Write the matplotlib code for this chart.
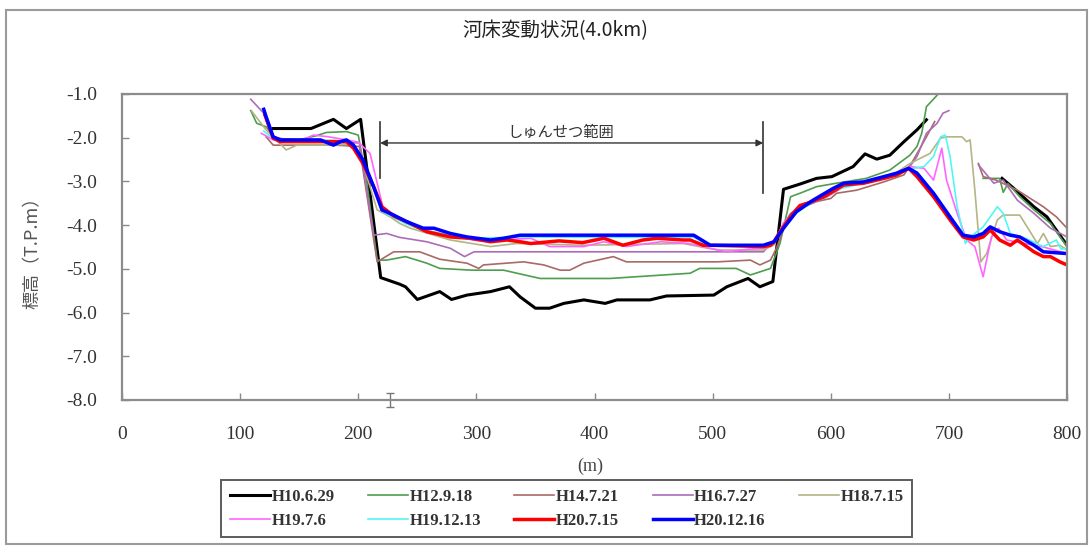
import numpy as np
import matplotlib
matplotlib.use("Agg")
import matplotlib.pyplot as plt
from matplotlib.patches import Rectangle

plt.rcParams['font.family'] = ['Noto Sans CJK JP', 'DejaVu Sans']
nan = np.nan

# ---- data (distance m, elevation T.P.m) ----
labels = ["H10.6.29", "H12.9.18", "H14.7.21", "H16.7.27", "H18.7.15",
          "H19.7.6", "H19.12.13", "H20.7.15", "H20.12.16"]
colors = ["#000000", "#4f9d4f", "#a86a66", "#ac6cb8", "#b4b484",
          "#ff66ff", "#55f5f5", "#ff0000", "#0000ff"]
widths = [2.2, 1.2, 1.2, 1.2, 1.2, 1.2, 1.2, 2.5, 2.5]

x_h10 = [128, 160, 179, 190, 202, 219, 235, 240, 250, 269, 279, 292, 312, 328, 337, 350, 362, 374,
         391, 409, 419, 447, 461, 501, 512, 530, 540, 551, 560, 574, 588, 601, 619, 629, 639, 650,
         662, 673, 681, nan, 745, 755, 772, 783, 800]
y_h10 = [-1.79, -1.79, -1.58, -1.79, -1.58, -5.20, -5.35, -5.41, -5.70, -5.52, -5.70, -5.60, -5.52,
         -5.41, -5.64, -5.90, -5.90, -5.79, -5.71, -5.79, -5.71, -5.71, -5.62, -5.60, -5.41, -5.22,
         -5.41, -5.29, -3.18, -3.06, -2.93, -2.89, -2.66, -2.37, -2.49, -2.40, -2.09, -1.82, -1.59,
         nan, -2.93, -3.16, -3.58, -3.81, -4.46]

x_h12 = [109, 114, 122, 130, 150, 165, 173, 190, 200, 207, 216, 224, 240, 258, 269, 296, 323, 354,
         413, 481, 489, 520, 532, 549, 557, 566, 574, 588, 605, 630, 650, 667, 673, 677, 681, 691,
         nan, 729, 743, 746, 750, 760, 772, 786, 800]
y_h12 = [-1.38, -1.67, -1.75, -2.02, -2.05, -1.95, -1.88, -1.86, -1.94, -2.97, -4.80, -4.80, -4.72,
         -4.87, -4.99, -5.03, -5.03, -5.22, -5.22, -5.10, -4.99, -4.99, -5.14, -4.99, -4.42, -3.35,
         -3.27, -3.12, -3.04, -2.93, -2.74, -2.40, -2.20, -1.90, -1.29, -1.00,
         nan, -2.93, -2.93, -3.25, -3.05, -3.35, -3.65, -3.96, -4.49]

x_h14 = [122, 128, 150, 180, 201, 216, 230, 252, 269, 292, 302, 306, 340, 357, 371, 379, 391, 416,
         427, 504, 532, 540, 549, 554, 563, 574, 588, 600, 605, 622, 645, 662, 670, 681, 688,
         nan, 725, 729, 740, 758, 780, 791, 800]
y_h14 = [-1.98, -2.17, -2.17, -2.17, -2.20, -4.84, -4.61, -4.61, -4.78, -4.87, -4.99, -4.91, -4.84,
         -4.91, -5.03, -5.03, -4.87, -4.72, -4.84, -4.84, -4.80, -4.91, -4.80, -4.53, -3.88, -3.62,
         -3.46, -3.39, -3.27, -3.20, -3.01, -2.85, -2.51, -1.98, -1.63,
         nan, -2.59, -2.89, -2.97, -3.20, -3.58, -3.81, -4.07]

x_h16 = [109, 120, 128, 150, 180, 201, 213, 224, 235, 258, 278, 290, 298, 408, 543, 552, 566, 577,
         597, 611, 633, 653, 667, 673, 681, 690, 695, 700, nan, 725, 738, 746, 758, 772, 786, 800]
y_h16 = [-1.12, -1.44, -1.98, -2.10, -2.10, -2.12, -4.23, -4.19, -4.28, -4.38, -4.53, -4.72, -4.61,
         -4.61, -4.61, -4.34, -3.73, -3.58, -3.35, -3.12, -2.97, -2.85, -2.66, -2.43, -1.90, -1.67,
         -1.44, -1.38, nan, -2.62, -3.04, -2.97, -3.43, -3.73, -4.07, -4.27]

x_h18 = [110, 122, 135, 139, 148, 170, 195, 204, 216, 227, 235, 244, 278, 312, 334, 391, 475, 504,
         543, 552, 560, 574, 590, 610, 630, 650, 667, 684, 693, 698, 711, 715, 718, 722, 727, 732,
         741, 746, 760, 775, 780, 786, 794, 800]
y_h18 = [-1.40, -1.82, -2.17, -2.28, -2.17, -2.17, -2.15, -2.60, -3.65, -3.81, -3.96, -4.07, -4.34,
         -4.49, -4.42, -4.46, -4.42, -4.57, -4.57, -4.45, -3.95, -3.58, -3.38, -3.12, -3.00, -2.90,
         -2.59, -2.36, -2.01, -1.98, -1.98, -2.09, -2.05, -3.20, -4.84, -4.65, -3.88, -3.77, -3.77,
         -4.42, -4.19, -4.49, -4.46, -4.57]

x_h19a = [118, 128, 150, 162, 175, 190, 200, 210, 221, 241, 258, 278, 300, 325, 346, 362, 391, 408,
          427, 456, 480, 512, 530, 545, 552, 560, 574, 590, 610, 630, 650, 667, 679, 687, 694, 698,
          707, 715, 722, 729, 736, 742, 749, 760, 780, 800]
y_h19a = [-1.90, -2.05, -2.08, -1.94, -1.98, -2.05, -2.10, -2.36, -3.60, -3.95, -4.12, -4.25, -4.35,
          -4.33, -4.30, -4.49, -4.49, -4.38, -4.49, -4.38, -4.42, -4.61, -4.55, -4.52, -4.42, -3.95,
          -3.60, -3.38, -3.12, -3.02, -2.90, -2.66, -2.70, -2.97, -2.24, -2.97, -3.73, -4.34, -4.49,
          -5.18, -4.27, -4.07, -4.34, -4.40, -4.50, -4.65]

x_h19b = [120, 128, 150, 180, 195, 204, 213, 221, 241, 255, 278, 300, 337, 400, 484, 498, 545, 552,
          560, 571, 585, 602, 628, 645, 666, 679, 687, 693, 697, 701, 707, 714, 718, 729, 741, 746,
          752, 765, 780, 791, 795, 800]
y_h19b = [-1.85, -2.02, -2.06, -2.06, -2.15, -2.52, -3.15, -3.70, -3.98, -4.12, -4.22, -4.30, -4.27,
          -4.28, -4.28, -4.48, -4.48, -4.38, -4.02, -3.72, -3.46, -3.20, -3.04, -2.91, -2.72, -2.66,
          -2.43, -1.98, -1.94, -2.43, -3.58, -4.42, -4.27, -4.04, -3.58, -3.73, -4.19, -4.30, -4.49,
          -4.34, -4.55, -4.53]

x_h20a = [121, 128, 134, 179, 190, 196, 204, 213, 220, 230, 241, 258, 278, 295, 312, 326, 337, 346,
          370, 390, 408, 424, 441, 453, 475, 481, 492, 498, 543, 549, 552, 560, 568, 574, 580, 594,
          611, 628, 645, 656, 666, 673, 687, 701, 712, 721, 729, 735, 743, 752, 758, 772, 780, 786,
          794, 800]
y_h20a = [-1.48, -2.01, -2.09, -2.09, -2.09, -2.24, -2.59, -3.12, -3.58, -3.79, -3.92, -4.15, -4.27,
          -4.30, -4.38, -4.34, -4.38, -4.42, -4.36, -4.40, -4.30, -4.46, -4.34, -4.30, -4.34, -4.34,
          -4.46, -4.46, -4.49, -4.46, -4.38, -4.04, -3.73, -3.55, -3.50, -3.35, -3.08, -3.04, -2.93,
          -2.85, -2.70, -2.89, -3.35, -3.88, -4.27, -4.34, -4.27, -4.11, -4.34, -4.46, -4.34, -4.61,
          -4.72, -4.72, -4.84, -4.91]

x_h20b = [120, 122, 128, 134, 168, 179, 185, 190, 196, 204, 213, 220, 230, 241, 255, 264, 278, 292,
          312, 323, 337, 484, 498, 543, 552, 560, 571, 585, 602, 611, 628, 645, 656, 666, 673, 687,
          701, 712, 721, 729, 735, 743, 752, 760, 772, 780, 800]
y_h20b = [-1.35, -1.52, -1.98, -2.05, -2.05, -2.17, -2.09, -2.05, -2.17, -2.51, -3.12, -3.65, -3.77,
          -3.92, -4.07, -4.07, -4.19, -4.27, -4.34, -4.30, -4.23, -4.23, -4.46, -4.46, -4.38, -4.07,
          -3.69, -3.43, -3.16, -3.04, -3.01, -2.89, -2.81, -2.70, -2.81, -3.27, -3.81, -4.23, -4.27,
          -4.19, -4.04, -4.15, -4.23, -4.27, -4.46, -4.61, -4.65]

xs = [x_h10, x_h12, x_h14, x_h16, x_h18, x_h19a, x_h19b, x_h20a, x_h20b]
ys = [y_h10, y_h12, y_h14, y_h16, y_h18, y_h19a, y_h19b, y_h20a, y_h20b]

x_ticks = [0, 100, 200, 300, 400, 500, 600, 700, 800]
y_ticks = [-1.0, -2.0, -3.0, -4.0, -5.0, -6.0, -7.0, -8.0]

# dredging range
dredge_x0, dredge_x1 = 218.5, 542.8

# ---- figure ----
fig = plt.figure(figsize=(10.89, 5.46), dpi=100)
fig.patches.append(Rectangle((6 / 1089, 1 - 544 / 546), 1081 / 1089, 534 / 546,
                             transform=fig.transFigure, fill=False,
                             edgecolor="#9a9a9a", linewidth=1.5))
ax = fig.add_axes([122 / 1089, 1 - 400 / 546, 945 / 1089, 306 / 546])

handles = []
for x, y, c, lw, lab in zip(xs, ys, colors, widths, labels):
    h, = ax.plot(x, y, color=c, linewidth=lw, label=lab, solid_joinstyle="round")
    handles.append(h)

ax.set_xlim(0, 800)
ax.set_ylim(-8.0, -1.0)
ax.set_xticks(x_ticks)
ax.set_yticks(y_ticks)
ax.set_xticklabels([str(t) for t in x_ticks], fontfamily="Liberation Serif",
                   fontsize=14, color="#333333")
ax.set_yticklabels(["%.1f" % t for t in y_ticks], fontfamily="Liberation Serif",
                   fontsize=14, color="#333333")
ax.tick_params(direction="in", length=5, width=1, color="#888888")
ax.tick_params(axis="x", pad=19)
ax.tick_params(axis="y", pad=18)
for s in ax.spines.values():
    s.set_color("#8c8c8c")
    s.set_linewidth(1.6)

# dredging annotation
ax.annotate("", xy=(dredge_x0, -2.12), xytext=(dredge_x1, -2.12),
            arrowprops=dict(arrowstyle="<|-|>", color="#333333", lw=1.0,
                            mutation_scale=10, shrinkA=0, shrinkB=0))
ax.plot([dredge_x0, dredge_x0], [-1.64, -2.92], color="#333333", lw=1.2)
ax.plot([dredge_x1, dredge_x1], [-1.64, -3.27], color="#333333", lw=1.2)
ax.text(371, -1.87, "しゅんせつ範囲", ha="center", va="center",
        fontsize=11, color="#333333")

# small I-beam mark on the axis
ax.errorbar([227], [-8.0], yerr=[0.17], fmt="none", ecolor="#777777",
            elinewidth=1, capsize=3, clip_on=False)

fig.text(555 / 1089, 1 - 31 / 546, "河床変動状況(4.0km)", ha="center", va="center",
         fontsize=14, color="#222222")
fig.text(33 / 1089, 1 - 248 / 546, "標高（T.P.m）", ha="center", va="center",
         rotation=90, fontsize=13, color="#555555")
fig.text(590 / 1089, 1 - 466 / 546, "(m)", ha="center", va="center",
         fontsize=13, color="#444444", fontfamily="Liberation Serif")

# legend filled row by row
order = [0, 5, 1, 6, 2, 7, 3, 8, 4]
leg = fig.legend([handles[i] for i in order], [labels[i] for i in order],
                 loc="upper left", bbox_to_anchor=(213 / 1089, 1 - 472 / 546), ncol=5,
                 frameon=True, fancybox=False, edgecolor="#333333",
                 prop={"family": "Liberation Serif", "size": 12, "weight": "bold"},
                 handlelength=2.4, handletextpad=0.1, columnspacing=2.0,
                 borderpad=0.5, labelspacing=0.5)
leg.get_frame().set_linewidth(1.4)
for t in leg.get_texts():
    t.set_color("#333333")

fig.savefig("out.png", dpi=100)
